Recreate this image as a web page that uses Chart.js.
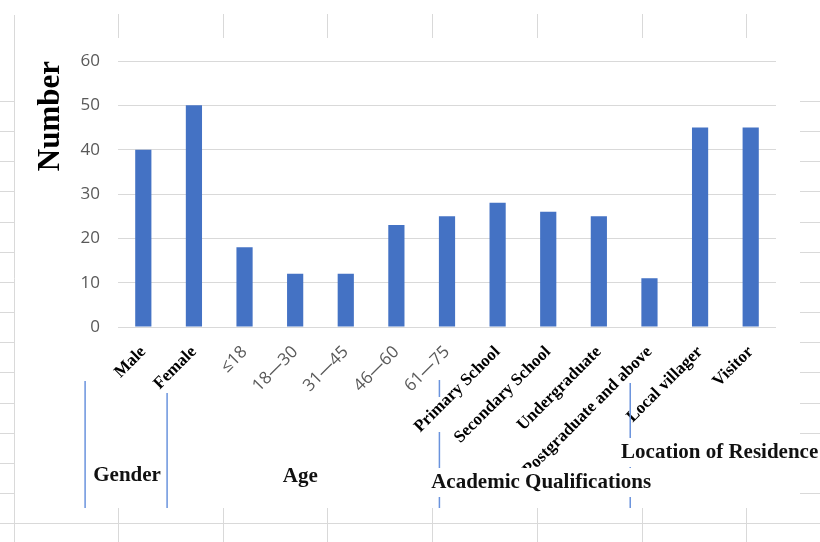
<!DOCTYPE html>
<html>
<head>
<meta charset="utf-8">
<script src="https://cdn.jsdelivr.net/npm/chart.js@4.4.0/dist/chart.umd.min.js"></script>
<style>
html, body { margin: 0; padding: 0; background: #fff; }
#wrap { width: 820px; height: 542px; position: relative; }
</style>
</head>
<body>
<div id="wrap"><canvas id="chart"></canvas></div>
<script>
// data
const categories = ['Male', 'Female', '≤18', '18—30', '31—45', '46—60', '61—75',
  'Primary School', 'Secondary School', 'Undergraduate', 'Postgraduate and above',
  'Local villager', 'Visitor'];
const counts = [40, 50, 18, 12, 12, 23, 25, 28, 26, 25, 11, 45, 45];
const groupNames = ['Gender', 'Age', 'Academic Qualifications', 'Location of Residence'];
const groupSizes = [2, 5, 5, 2];
const yTicks = [0, 10, 20, 30, 40, 50, 60];

// which group each category belongs to
const groupOf = [];
groupSizes.forEach((n, g) => { for (let i = 0; i < n; i++) groupOf.push(g); });

const GRID = '#D9D9D9';
const BLUE = '#4472C4';
const SEP = '#6A93DD';

// spreadsheet cell lines behind the chart (it was pasted into Excel)
const sheetBg = {
  id: 'sheetBg',
  beforeDraw(chart) {
    const ctx = chart.ctx;
    ctx.save();
    ctx.fillStyle = '#fff';
    ctx.fillRect(0, 0, chart.width, chart.height);
    ctx.strokeStyle = GRID;
    ctx.lineWidth = 1;
    ctx.beginPath();
    ctx.moveTo(14.5, 15); ctx.lineTo(14.5, chart.height);
    ctx.moveTo(0, 523.5); ctx.lineTo(chart.width, 523.5);
    for (let k = 0; k < 7; k++) {
      const x = Math.round(118 + k * 104.7) + 0.5;
      ctx.moveTo(x, 14); ctx.lineTo(x, 38);
      ctx.moveTo(x, 508); ctx.lineTo(x, chart.height);
    }
    for (let k = 0; k < 14; k++) {
      const y = Math.round(101 + k * 30.15) + 0.5;
      ctx.moveTo(0, y); ctx.lineTo(14, y);
      ctx.moveTo(800, y); ctx.lineTo(chart.width, y);
    }
    ctx.stroke();
    ctx.restore();
  }
};

// group captions and the blue divider lines under the axis
const groupDecor = {
  id: 'groupDecor',
  afterDraw(chart) {
    const ctx = chart.ctx;
    const xs = chart.scales.x;
    const base = chart.chartArea.bottom;
    ctx.save();
    ctx.strokeStyle = SEP;
    ctx.lineWidth = 1.5;
    const seps = [
      { at: -1.15, segs: [[54, 181]] },
      { at: 0.47, segs: [[66, 181]] },
      { at: 5.85, segs: [[53, 70], [105, 181]] },
      { at: 9.62, segs: [[56, 181]] }
    ];
    seps.forEach(s => {
      const x = xs.getPixelForValue(s.at);
      s.segs.forEach(([a, b]) => {
        ctx.beginPath();
        ctx.moveTo(x, base + a);
        ctx.lineTo(x, base + b);
        ctx.stroke();
      });
    });

    ctx.font = 'bold 21px "Liberation Serif", "Times New Roman", serif';
    ctx.textBaseline = 'alphabetic';
    const caps = [
      { at: -0.32, dy: 154, align: 'center' },
      { at: 3.1, dy: 155, align: 'center' },
      { at: 7.86, dy: 161, align: 'center' },
      { at: 9.44, dy: 131, align: 'left' }
    ];
    caps.forEach((c, g) => {
      const text = groupNames[g];
      const w = ctx.measureText(text).width;
      const x = xs.getPixelForValue(c.at);
      const left = c.align === 'center' ? x - w / 2 : x;
      const y = base + c.dy;
      ctx.fillStyle = '#fff';
      ctx.fillRect(left - 3, y - 20, w + 6, 29);
      ctx.fillStyle = '#111';
      ctx.textAlign = c.align;
      ctx.fillText(text, x, y);
    });
    ctx.restore();
  }
};

new Chart(document.getElementById('chart'), {
  type: 'bar',
  data: {
    labels: categories,
    datasets: [{
      label: 'Number',
      data: counts,
      backgroundColor: BLUE,
      borderWidth: 0,
      barPercentage: 0.32,
      categoryPercentage: 1
    }]
  },
  options: {
    responsive: true,
    maintainAspectRatio: false,
    animation: false,
    layout: { padding: { left: 0, right: 44, top: 61, bottom: 0 } },
    plugins: {
      legend: { display: false },
      tooltip: { enabled: false }
    },
    scales: {
      x: {
        grid: { display: false, drawTicks: false },
        border: { display: false },
        afterFit: s => { s.height = 215; },
        ticks: {
          autoSkip: false,
          minRotation: 45,
          maxRotation: 45,
          padding: 15,
          color: c => groupOf[c.index] === 1 ? '#595959' : '#000',
          font: c => groupOf[c.index] === 1
            ? { family: '"Open Sans", sans-serif', size: 17 }
            : { family: '"Liberation Serif", "Times New Roman", serif', size: 17, weight: 'bold' }
        }
      },
      y: {
        min: 0,
        max: 60,
        afterFit: s => { s.width = 118; },
        afterBuildTicks: s => { s.ticks = yTicks.map(v => ({ value: v })); },
        grid: { color: GRID, lineWidth: 1, drawTicks: false },
        border: { display: false },
        ticks: {
          padding: 18,
          color: '#595959',
          font: { family: '"Open Sans", sans-serif', size: 17 }
        },
        title: {
          display: true,
          text: 'Number',
          align: 'end',
          color: '#000',
          padding: { top: 32, bottom: 0 },
          font: { family: '"Liberation Serif", "Times New Roman", serif', size: 31, weight: 'bold' }
        }
      }
    }
  },
  plugins: [sheetBg, groupDecor]
});
</script>
</body>
</html>
